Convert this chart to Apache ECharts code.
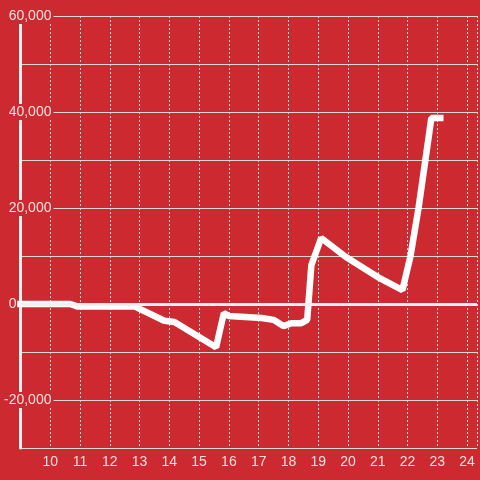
<!DOCTYPE html>
<html>
<head>
<meta charset="utf-8">
<script src="https://cdn.jsdelivr.net/npm/echarts@6/dist/echarts.min.js"></script>
<style>
  html, body { margin: 0; padding: 0; background: #cc2a30; }
  #main { width: 480px; height: 480px; }
</style>
</head>
<body>
<div id="main"></div>
<script>
// values
var xs = [9, 10.67, 10.9, 12.83, 13.83, 14.17, 15.57, 15.83, 16.0, 17.1, 17.5, 17.83, 18.1, 18.43, 18.63, 18.77, 19.1, 19.93, 21.0, 21.83, 22.1, 22.37, 22.6, 22.8, 23.1];
var ys = [0, 0, -500, -500, -3500, -3750, -9000, -1900, -2500, -2900, -3300, -4600, -4000, -4000, -3300, 8100, 13750, 9800, 5600, 2900, 10000, 20000, 30000, 38750, 38750];
var yLabels = [-20000, 0, 20000, 40000, 60000];

var bg = '#cc2a30';
var txt = 'rgba(255,255,255,0.85)';
var gridCol = '#d9d9d9';

var points = [];
for (var i = 0; i < xs.length; i++) {
  points.push([xs[i], ys[i]]);
}

var myChart = echarts.init(document.getElementById('main'));
myChart.setOption({
  backgroundColor: bg,
  animation: false,
  textStyle: { fontFamily: 'Liberation Sans, Arial, sans-serif' },
  grid: { left: 20, right: 0, top: 16, bottom: 32, containLabel: false },
  xAxis: {
    type: 'value',
    min: 9,
    max: 9 + 460 / 30,
    interval: 1,
    axisLine: { show: false, onZero: false },
    axisTick: { show: false },
    axisLabel: {
      color: txt,
      fontSize: 14,
      margin: 7,
      showMinLabel: false,
      formatter: function (v) {
        return (Math.abs(v - Math.round(v)) < 1e-6 && v > 9) ? String(Math.round(v)) : '';
      }
    },
    splitLine: { show: true, lineStyle: { color: gridCol, width: 1, type: [2, 2] } }
  },
  yAxis: {
    type: 'value',
    min: -30000,
    max: 60000,
    interval: 10000,
    axisLine: { show: true, lineStyle: { color: '#f2f2f2', width: 3 } },
    axisTick: { show: false },
    axisLabel: {
      margin: -33,
      fontSize: 14,
      color: txt,
      formatter: function (v) {
        if (yLabels.indexOf(v) < 0) return '';
        if (v === 0) return '{z|0}';
        return '{a|' + v.toLocaleString('en-US') + '}';
      },
      rich: {
        a: { color: txt, fontSize: 14, backgroundColor: bg, padding: [1, 2, 1, 1] },
        z: { color: txt, fontSize: 14, padding: [0, 37, 0, 0] }
      }
    },
    splitLine: { show: true, lineStyle: { color: gridCol, width: 1 } }
  },
  series: [{
    type: 'line',
    data: points,
    showSymbol: false,
    clip: false,
    lineStyle: { color: '#ffffff', width: 6.5, cap: 'square' },
    markLine: {
      silent: true,
      symbol: 'none',
      label: { show: false },
      lineStyle: { color: '#f5f0f0', width: 3, type: 'solid' },
      data: [{ yAxis: 0 }]
    }
  }]
});
</script>
</body>
</html>
